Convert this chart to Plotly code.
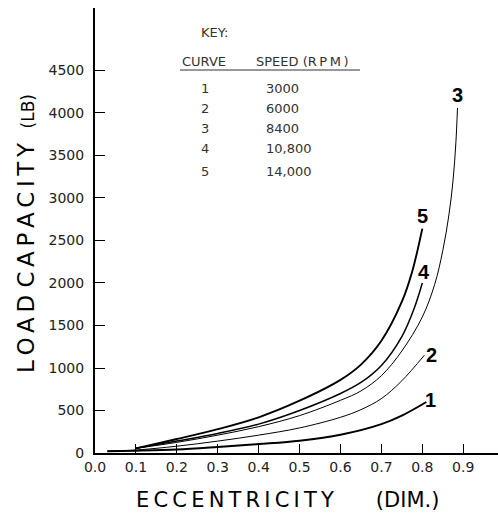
import plotly.graph_objects as go

# ---------------- data ----------------
ecc_1 = [0.03, 0.10, 0.20, 0.30, 0.40, 0.50, 0.60, 0.70, 0.75, 0.81]
load_1 = [22, 27, 40, 70, 105, 145, 215, 340, 440, 600]

ecc_2 = [0.03, 0.10, 0.20, 0.30, 0.40, 0.50, 0.60, 0.65, 0.70, 0.75, 0.805]
load_2 = [22, 35, 80, 140, 210, 295, 420, 510, 640, 850, 1150]

ecc_3 = [0.10, 0.20, 0.30, 0.40, 0.50, 0.60, 0.65, 0.70, 0.75, 0.80, 0.83, 0.85, 0.865, 0.875, 0.882, 0.886]
load_3 = [55, 125, 210, 310, 440, 620, 730, 910, 1200, 1600, 1980, 2380, 2800, 3200, 3650, 4060]

ecc_4 = [0.10, 0.20, 0.30, 0.40, 0.50, 0.60, 0.65, 0.70, 0.75, 0.78, 0.80]
load_4 = [55, 140, 230, 340, 500, 700, 830, 1030, 1370, 1700, 2000]

ecc_5 = [0.10, 0.20, 0.30, 0.40, 0.50, 0.60, 0.65, 0.70, 0.75, 0.775, 0.80]
load_5 = [55, 165, 280, 420, 615, 860, 1040, 1320, 1780, 2130, 2640]

curve_ids = ["1", "2", "3", "4", "5"]
speeds_rpm = ["3000", "6000", "8400", "10,800", "14,000"]

x_tick_vals = [0.0, 0.1, 0.2, 0.3, 0.4, 0.5, 0.6, 0.7, 0.8, 0.9]
x_tick_text = ["0.0", "0.1", "0.2", "0.3", "0.4", "0.5", "0.6", "0.7", "0.8", "0.9"]
y_tick_vals = [0, 500, 1000, 1500, 2000, 2500, 3000, 3500, 4000, 4500]
y_tick_text = ["0", "500", "1000", "1500", "2000", "2500", "3000", "3500", "4000", "4500"]

# ---------------- layout geometry ----------------
W, H = 498, 514
ML, MR, MT, MB = 95, 0, 8, 61
PW, PH = W - ML - MR, H - MT - MB


def px_x(px):
    return (px - ML) / PW


def px_y(py):
    return (H - MB - py) / PH


TS = "\u2009"  # thin space used for the wide lettering of the original


def spaced(s):
    return TS.join(list(s))


series = [
    (ecc_1, load_1, 2.0, dict(xshift=4, yshift=2)),
    (ecc_2, load_2, 1.0, dict(xshift=7, yshift=0)),
    (ecc_3, load_3, 1.0, dict(xshift=0, yshift=13)),
    (ecc_4, load_4, 1.5, dict(xshift=2, yshift=11)),
    (ecc_5, load_5, 1.9, dict(xshift=0, yshift=13)),
]

fig = go.Figure()
annotations = []
for cid, (xs, ys, lw, lab) in zip(curve_ids, series):
    fig.add_trace(go.Scatter(
        x=xs, y=ys, mode="lines", name=cid,
        line=dict(color="black", width=lw, shape="spline", smoothing=1.0),
        showlegend=False, hoverinfo="skip",
    ))
    annotations.append(dict(
        x=xs[-1], y=ys[-1], xref="x", yref="y", text="<b>" + cid + "</b>",
        showarrow=False, xanchor="center", yanchor="middle",
        font=dict(family="Liberation Sans, Arial, sans-serif", size=20, color="black"),
        **lab,
    ))

key_font = dict(family="DejaVu Sans", size=13, color="#333")
annotations.append(dict(x=px_x(214), y=px_y(32), xref="paper", yref="paper",
                        text="KEY:", showarrow=False, xanchor="center",
                        yanchor="middle", font=key_font))
annotations.append(dict(x=px_x(180), y=px_y(62), xref="paper", yref="paper",
                        text="CURVE", showarrow=False, xanchor="left",
                        yanchor="middle", font=key_font))
annotations.append(dict(x=px_x(254), y=px_y(62), xref="paper", yref="paper",
                        text="SPEED (R" + TS + "P" + TS + "M" + TS + ")",
                        showarrow=False, xanchor="left",
                        yanchor="middle", font=key_font))
row_py = [89, 108, 128, 148, 171]
for cid, sp, py in zip(curve_ids, speeds_rpm, row_py):
    annotations.append(dict(x=px_x(205), y=px_y(py), xref="paper", yref="paper",
                            text=cid, showarrow=False, xanchor="center",
                            yanchor="middle", font=key_font))
    annotations.append(dict(x=px_x(264), y=px_y(py), xref="paper", yref="paper",
                            text=sp, showarrow=False, xanchor="left",
                            yanchor="middle", font=key_font))

# axis titles
annotations.append(dict(
    x=px_x(287), y=px_y(500), xref="paper", yref="paper",
    text=spaced("ECCENTRICITY") + "\u2003\u2003" + "(DIM.)",
    showarrow=False, xanchor="center", yanchor="middle",
    font=dict(family="DejaVu Sans", size=21, color="black"),
))
annotations.append(dict(
    x=px_x(26), y=px_y(234), xref="paper", yref="paper",
    text=spaced("LOAD") + " " + spaced("CAPACITY") + "  <span style='font-size:17px'>(LB)</span>",
    textangle=-90, showarrow=False, xanchor="center", yanchor="middle",
    font=dict(family="DejaVu Sans", size=23, color="black"),
))

tick_font = dict(family="DejaVu Sans", size=14, color="#222")

fig.update_layout(
    width=W, height=H,
    margin=dict(l=ML, r=MR, t=MT, b=MB, pad=0),
    paper_bgcolor="white", plot_bgcolor="white",
    showlegend=False,
    annotations=annotations,
    shapes=[dict(type="line", xref="paper", yref="paper",
                 x0=px_x(180), x1=px_x(360), y0=px_y(70), y1=px_y(70),
                 line=dict(color="#333", width=1))],
    xaxis=dict(
        range=[0, 0.985], showgrid=False, zeroline=False,
        showline=True, linecolor="black", linewidth=2,
        ticks="inside", ticklen=9, tickwidth=1.3, tickcolor="black",
        tickvals=x_tick_vals, ticktext=x_tick_text, tickfont=tick_font,
    ),
    yaxis=dict(
        range=[0, 5235], showgrid=False, zeroline=False,
        showline=True, linecolor="black", linewidth=2,
        ticks="inside", ticklen=10, tickwidth=1.3, tickcolor="black",
        tickvals=y_tick_vals, ticktext=y_tick_text, tickfont=tick_font,
        ticklabelstandoff=6,
    ),
)

fig.write_html("out.html")
